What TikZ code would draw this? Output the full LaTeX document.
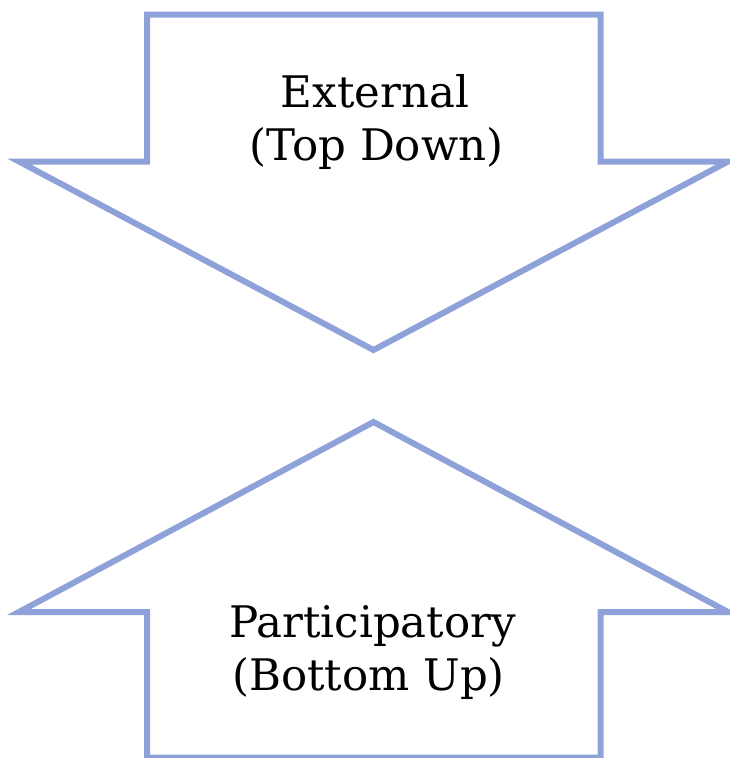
\documentclass[tikz,border=0pt]{standalone}
\usepackage{fontspec}
\setmainfont{DejaVu Serif}
\usepackage{tikz}
\definecolor{arrowblue}{RGB}{143,161,217}
\tikzset{x=1pt, y=-1pt,
  outline/.style={draw=arrowblue, line width=6pt, line join=miter},
  arrowtext/.style={align=center, font=\fontsize{43.5}{53}\selectfont, inner sep=0pt, anchor=base}}

\begin{document}
\begin{tikzpicture}
\useasboundingbox (0,0) rectangle (730,758);
% top down arrow
\draw[outline] (147,14.5) -- (600.5,14.5) -- (600.5,161.5) -- (728,161.5)
  -- (373.5,350) -- (19,161.5) -- (147,161.5) -- cycle;
% bottom up arrow
\draw[outline] (147,757.5) -- (600.5,757.5) -- (600.5,612) -- (728,612)
  -- (373.5,422) -- (19,612) -- (147,612) -- cycle;
\node[arrowtext] (ext) at (375,107) {External};
\node[arrowtext] (top) at (376.5,160) {(Top Down)};
\node[arrowtext] (par) at (372.5,637) {Participatory};
\node[arrowtext] (bot) at (368.5,690) {(Bottom Up)};
\end{tikzpicture}
\end{document}
